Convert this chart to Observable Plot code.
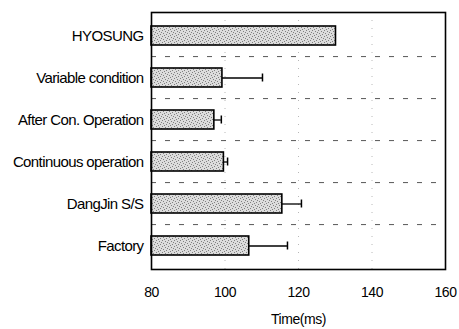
<!DOCTYPE html>
<html>
<head>
<meta charset="utf-8">
<script src="https://cdn.jsdelivr.net/npm/d3@7"></script>
<script src="https://cdn.jsdelivr.net/npm/@observablehq/plot@0.6"></script>
<style>
  body { margin: 0; background: #fff; }
  #chart svg { font-family: "Liberation Sans", Arial, sans-serif; }
</style>
</head>
<body>
<div id="chart"></div>
<script>
// Response time per test case (ms): mean and upper error
const sites = ["HYOSUNG", "Variable condition", "After Con. Operation", "Continuous operation", "DangJin S/S", "Factory"];
const meanTime = [130.2, 99.3, 97.1, 99.7, 115.6, 106.6];
const errTime = [0, 10.9, 1.9, 1.0, 5.2, 10.4];
const xTicks = [80, 100, 120, 140, 160];
const xDomain = [80, 160];

const rows = sites.map((site, i) => ({site, mean: meanTime[i], upper: meanTime[i] + errTime[i], err: errTime[i]}));
const withErr = rows.filter(d => d.err > 0);

const W = 459, H = 329;
const mTop = 12, mBottom = 60, mLeft = 151, mRight = 14;
const step = (H - mTop - mBottom) / sites.length;

const chart = Plot.plot({
  width: W,
  height: H,
  marginTop: mTop,
  marginBottom: mBottom,
  marginLeft: mLeft,
  marginRight: mRight,
  style: {fontSize: "14px", color: "#000", background: "#fff"},
  x: {domain: xDomain},
  y: {domain: sites, paddingInner: 0.556, paddingOuter: 0.278},
  marks: [
    // faint dotted vertical grid
    Plot.gridX(xTicks.slice(1, -1), {stroke: "#888", strokeOpacity: 0.6, strokeDasharray: "1,7"}),
    // dashed separators between categories
    Plot.ruleY(sites.slice(1), {y: d => d, dy: -step / 2, stroke: "#444", strokeWidth: 0.9, strokeDasharray: "5,9"}),
    Plot.barX(rows, {y: "site", x1: () => xDomain[0], x2: "mean", fill: "url(#stipple)", stroke: "#000", strokeWidth: 1.6}),
    Plot.ruleY(withErr, {y: "site", x1: "mean", x2: "upper", stroke: "#000", strokeWidth: 1.3}),
    Plot.tickX(withErr, {y: "site", x: "upper", stroke: "#000", strokeWidth: 1.5, insetTop: 5.5, insetBottom: 5.5}),
    Plot.frame({stroke: "#000", strokeWidth: 1.6}),
    Plot.axisY({tickSize: 0, tickPadding: 8, label: null, fontSize: 15, className: "ylab"}),
    Plot.axisX({ticks: xTicks, tickSize: 0, tickPadding: 18, label: "Time(ms)", labelAnchor: "center", labelArrow: "none", labelOffset: 54, fontSize: 14})
  ]
});

// stippled grey fill for the bars
const svg = d3.select(chart);
const defs = svg.insert("defs", ":first-child");
const pat = defs.append("pattern")
  .attr("id", "stipple")
  .attr("patternUnits", "userSpaceOnUse")
  .attr("width", 6).attr("height", 6);
pat.append("rect").attr("width", 6).attr("height", 6).attr("fill", "#dcdcdc");
const dots = [[0,0],[3,1],[1,3],[4,4],[5,2],[2,5]];
pat.selectAll("rect.d").data(dots).join("rect")
  .attr("class", "d")
  .attr("x", d => d[0]).attr("y", d => d[1])
  .attr("width", 1).attr("height", 1)
  .attr("fill", "#808080");

svg.selectAll("text").attr("letter-spacing", "-0.45");
svg.selectAll(".ylab text").attr("letter-spacing", "-0.6");
document.getElementById("chart").append(chart);
</script>
</body>
</html>
